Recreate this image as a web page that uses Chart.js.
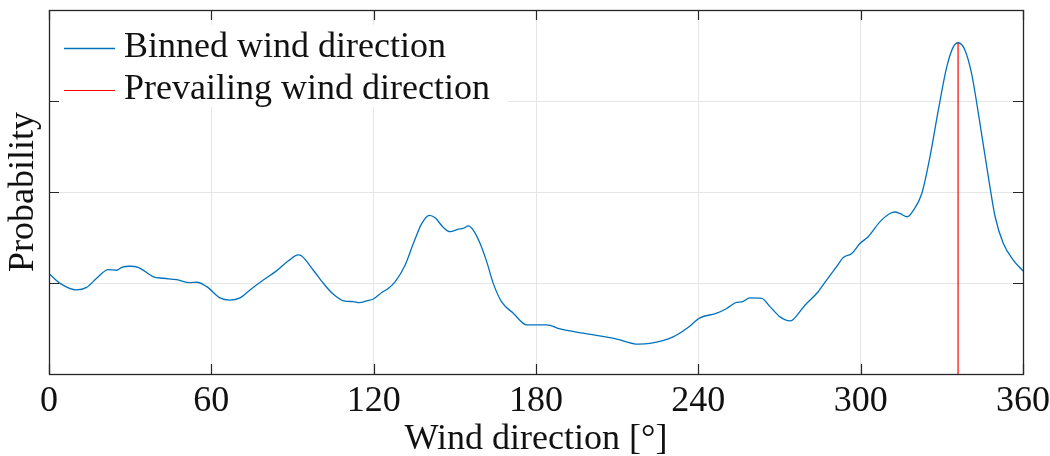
<!DOCTYPE html>
<html>
<head>
<meta charset="utf-8">
<script src="https://cdn.jsdelivr.net/npm/chart.js@4.4.1/dist/chart.umd.min.js"></script>
<style>
  html, body { margin: 0; padding: 0; background: #ffffff; }
  #wrap { width: 1050px; height: 456px; }
</style>
</head>
<body>
<div id="wrap"><canvas id="chart" width="1050" height="456"></canvas></div>
<script>
// Wind direction bins (degrees) and the probability of each bin
const directions = [
  0, 4.1, 10.2, 13.9, 17.6, 21.9, 25.0, 26.9, 29.9, 33.0,
  38.6, 42.3, 47.2, 52.1, 54.6, 58.3, 63.2, 66.9, 70.6, 74.3,
  79.2, 84.2, 88.5, 92.1, 93.4, 97.7, 101.4, 105.1, 109.4, 112.5,
  114.7, 117.4, 119.9, 123.0, 125.4, 127.9, 131.6, 134.7, 137.8, 140.6,
  142.7, 145.7, 148.2, 151.3, 153.1, 155.0, 156.8, 159.3, 161.8, 164.2,
  167.3, 171.6, 176.6, 184.0, 188.9, 197.5, 209.8, 217.8, 222.1, 230.7,
  235.7, 240.6, 246.8, 250.5, 254.2, 256.0, 259.1, 263.4, 266.5, 270.2,
  273.9, 275.1, 279.4, 284.3, 287.4, 291.1, 293.6, 296.7, 299.8, 302.8,
  307.1, 310.8, 312.7, 314.5, 317.2, 319.5, 322.6, 325.6, 328.7, 331.8,
  334.2, 336.0, 338.6, 341.0, 344.1, 347.2, 349.7, 352.7, 356.4, 360
];
const probabilities = [
  0.00276, 0.00249, 0.00231, 0.00238, 0.00263, 0.00287, 0.00285, 0.00293, 0.00296, 0.00293,
  0.00267, 0.00263, 0.00259, 0.00251, 0.00252, 0.00240, 0.00209, 0.00203, 0.00209, 0.00231,
  0.00258, 0.00284, 0.00311, 0.00327, 0.00324, 0.00285, 0.00249, 0.00219, 0.00200, 0.00199,
  0.00196, 0.00201, 0.00206, 0.00224, 0.00235, 0.00253, 0.00299, 0.00359, 0.00414, 0.00436,
  0.00429, 0.00403, 0.00391, 0.00398, 0.00400, 0.00407, 0.00395, 0.00359, 0.00308, 0.00249,
  0.00198, 0.00167, 0.00135, 0.00135, 0.00124, 0.00112, 0.00096, 0.00082, 0.00084, 0.00102,
  0.00125, 0.00154, 0.00167, 0.00180, 0.00197, 0.00198, 0.00209, 0.00208, 0.00185, 0.00157,
  0.00146, 0.00150, 0.00189, 0.00226, 0.00258, 0.00295, 0.00320, 0.00331, 0.00359, 0.00377,
  0.00418, 0.00441, 0.00445, 0.00441, 0.00432, 0.00450, 0.00496, 0.00596, 0.00725, 0.00843,
  0.00898, 0.00910, 0.00889, 0.00825, 0.00688, 0.00541, 0.00432, 0.00359, 0.00313, 0.00283
];
const xTickValues = [0, 60, 120, 180, 240, 300, 360];
const yGridValues = [0, 0.0025, 0.005, 0.0075, 0.01];
const seriesLabels = ['Binned wind direction', 'Prevailing wind direction'];
const xAxisLabel = 'Wind direction [\u00B0]';
const yAxisLabel = 'Probability';

// Prevailing direction = bin with the highest probability
let peakIndex = 0;
probabilities.forEach((p, i) => { if (p > probabilities[peakIndex]) peakIndex = i; });
const prevailingDirection = directions[peakIndex];
const prevailingProbability = probabilities[peakIndex];

const FONT = "'Liberation Serif', 'Times New Roman', serif";
const TEXT_COLOR = '#111111';
const AXIS_COLOR = '#262626';
const GRID_COLOR = '#e6e6e6';
const BLUE = '#0072BD';
const RED = '#FF0000';

// Boxed axes with inward tick marks on all four sides
const frameAxes = {
  id: 'frameAxes',
  afterDraw(chart) {
    const { ctx, chartArea: a, scales: { x, y } } = chart;
    const len = 10;
    ctx.save();
    ctx.strokeStyle = AXIS_COLOR;
    ctx.lineWidth = 1.2;
    ctx.beginPath();
    x.ticks.forEach(t => {
      const px = Math.round(x.getPixelForValue(t.value)) + 0.5;
      ctx.moveTo(px, a.bottom); ctx.lineTo(px, a.bottom - len);
      ctx.moveTo(px, a.top); ctx.lineTo(px, a.top + len);
    });
    y.ticks.forEach(t => {
      const py = Math.round(y.getPixelForValue(t.value)) + 0.5;
      ctx.moveTo(a.left, py); ctx.lineTo(a.left + len, py);
      ctx.moveTo(a.right, py); ctx.lineTo(a.right - len, py);
    });
    ctx.stroke();
    ctx.lineWidth = 1.3;
    ctx.strokeRect(a.left + 0.5, a.top + 0.5, a.right - a.left, a.bottom - a.top);
    ctx.restore();
  }
};

// Legend in the upper-left corner of the axes on a white panel
const insetLegend = {
  id: 'insetLegend',
  afterDatasetsDraw(chart) {
    const { ctx, chartArea: a } = chart;
    const ds = chart.data.datasets;
    ctx.save();
    ctx.fillStyle = '#ffffff';
    ctx.fillRect(a.left + 3, a.top + 15, 456, 82);
    ctx.font = '36px ' + FONT;
    ctx.textBaseline = 'alphabetic';
    ctx.textAlign = 'left';
    ds.forEach((d, i) => {
      const base = a.top + 47 + i * 42;
      const ly = Math.round(base - 9) + 0.5;
      ctx.strokeStyle = d.borderColor;
      ctx.lineWidth = d.borderWidth;
      ctx.beginPath();
      ctx.moveTo(a.left + 15, ly);
      ctx.lineTo(a.left + 66, ly);
      ctx.stroke();
      ctx.fillStyle = TEXT_COLOR;
      ctx.fillText(d.label, a.left + 75, base);
    });
    ctx.restore();
  }
};

new Chart(document.getElementById('chart'), {
  type: 'line',
  data: {
    datasets: [
      {
        label: seriesLabels[0],
        data: directions.map((d, i) => ({ x: d, y: probabilities[i] })),
        borderColor: BLUE,
        borderWidth: 1.3,
        pointRadius: 0,
        cubicInterpolationMode: 'monotone',
        fill: false,
        order: 1
      },
      {
        label: seriesLabels[1],
        data: [
          { x: prevailingDirection, y: 0 },
          { x: prevailingDirection, y: prevailingProbability }
        ],
        borderColor: RED,
        borderWidth: 1.2,
        pointRadius: 0,
        fill: false,
        order: 0
      }
    ]
  },
  options: {
    responsive: false,
    animation: false,
    devicePixelRatio: 1,
    layout: { padding: { left: 0, top: 10, right: 27, bottom: 0 } },
    plugins: {
      legend: { display: false },
      tooltip: { enabled: false }
    },
    scales: {
      x: {
        type: 'linear',
        min: 0,
        max: 360,
        afterBuildTicks: s => { s.ticks = xTickValues.map(v => ({ value: v })); },
        afterFit: s => { s.height = 82; s.paddingLeft = 0; s.paddingRight = 0; },
        grid: { color: GRID_COLOR, lineWidth: 1, drawTicks: false },
        border: { display: false },
        ticks: {
          padding: 6,
          maxRotation: 0,
          autoSkip: false,
          color: TEXT_COLOR,
          font: { family: FONT, size: 36 }
        },
        title: {
          display: true,
          text: xAxisLabel,
          color: TEXT_COLOR,
          font: { family: FONT, size: 36, lineHeight: 1 },
          padding: { top: 0, bottom: -2 }
        }
      },
      y: {
        type: 'linear',
        min: 0,
        max: 0.01,
        afterBuildTicks: s => { s.ticks = yGridValues.map(v => ({ value: v })); },
        afterFit: s => { s.width = 49; s.paddingTop = 0; s.paddingBottom = 0; },
        grid: { color: GRID_COLOR, lineWidth: 1, drawTicks: false },
        border: { display: false },
        ticks: { display: false },
        title: {
          display: true,
          text: yAxisLabel,
          color: TEXT_COLOR,
          font: { family: FONT, size: 36, lineHeight: 1.2 },
          padding: { top: 2, bottom: 0 }
        }
      }
    }
  },
  plugins: [insetLegend, frameAxes]
});
</script>
</body>
</html>
